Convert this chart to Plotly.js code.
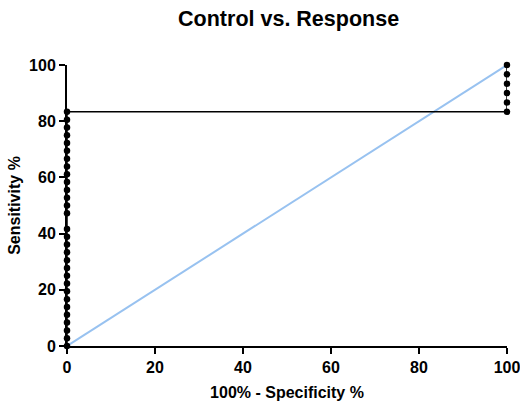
<!DOCTYPE html>
<html>
<head>
<meta charset="utf-8">
<script src="https://cdn.plot.ly/plotly-3.0.1.min.js"></script>
<style>html,body{margin:0;padding:0;background:#fff;}#chart{width:520px;height:403px;}</style>
</head>
<body>
<div id="chart"></div>
<script>
// ROC curve points (100% - Specificity %, Sensitivity %)
const rocX = [0,0,0,0,0,0,0,0,0,0,0,0,0,0,0,0,
              0,0,0,0,0,0,0,0,0,0,0,0,0,0,
              100,100,100,100,100,100];
const rocY = [0,2.78,5.56,8.33,11.11,13.89,16.67,19.44,22.22,25,27.78,30.56,33.33,36.11,38.89,41.67,
              47.22,50,52.78,55.56,58.33,61.11,63.89,66.67,69.44,72.22,75,77.78,80.56,83.33,
              83.33,86.67,90,93.33,96.67,100];
const diagX = [0, 100];
const diagY = [0, 100];
const tickVals = [0, 20, 40, 60, 80, 100];

const fam = 'Arial, "Liberation Sans", sans-serif';
const tickFont = {family: fam, color: '#000', size: 16, weight: 'bold'};

const traces = [
  {x: diagX, y: diagY, mode: 'lines', type: 'scatter',
   line: {color: '#98c2f0', width: 2}, cliponaxis: false, hoverinfo: 'skip'},
  {x: rocX, y: rocY, mode: 'lines+markers', type: 'scatter',
   line: {color: '#000', width: 1.5}, marker: {color: '#000', size: 6.5},
   cliponaxis: false}
];

const layout = {
  width: 520, height: 403,
  margin: {l: 67, r: 13, t: 65, b: 57},
  paper_bgcolor: '#fff', plot_bgcolor: '#fff',
  showlegend: false,
  font: tickFont,
  title: {text: 'Control vs. Response', x: 0.555, xanchor: 'center', y: 0.955, yanchor: 'middle',
          font: {family: fam, size: 21.5, color: '#000', weight: 'bold'}},
  xaxis: {range: [0, 100], tickvals: tickVals, showgrid: false, zeroline: false,
          showline: true, linecolor: '#000', linewidth: 2, ticks: 'outside', ticklen: 6,
          tickwidth: 2, tickcolor: '#000', tickfont: tickFont, ticklabeloverflow: 'allow',
          title: {text: '100% - Specificity %', standoff: 12, font: {family: fam, size: 16, color: '#000', weight: 'bold'}}},
  yaxis: {range: [0, 100], tickvals: tickVals, showgrid: false, zeroline: false,
          showline: true, linecolor: '#000', linewidth: 2, ticks: 'outside', ticklen: 6,
          tickwidth: 2, tickcolor: '#000', tickfont: tickFont,
          title: {text: 'Sensitivity %', standoff: 4, font: {family: fam, size: 16, color: '#000', weight: 'bold'}}}
};

Plotly.newPlot('chart', traces, layout, {displayModeBar: false, staticPlot: true});
</script>
</body>
</html>
